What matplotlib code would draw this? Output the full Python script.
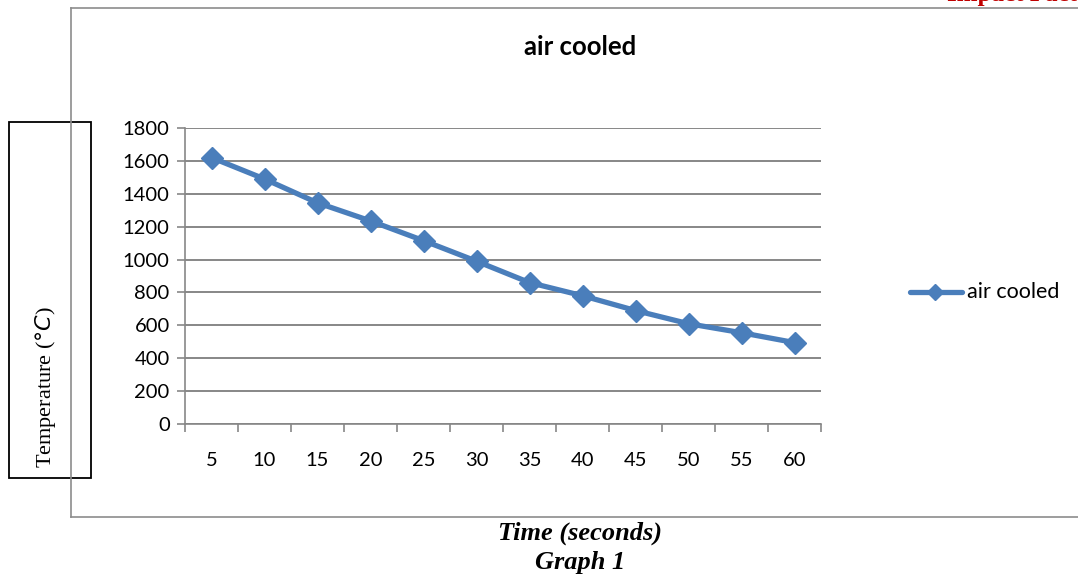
import matplotlib
matplotlib.use("Agg")
import matplotlib.pyplot as plt
from matplotlib.patches import Rectangle
from matplotlib.lines import Line2D

time_labels = ["5", "10", "15", "20", "25", "30", "35", "40", "45", "50", "55", "60"]
temperature = [1620, 1490, 1345, 1235, 1115, 990, 860, 780, 690, 610, 555, 495]
y_ticks = [0, 200, 400, 600, 800, 1000, 1200, 1400, 1600, 1800]
series_name = "air cooled"

W, H = 1078, 578
fig = plt.figure(figsize=(W / 100, H / 100), dpi=100)
fig.patch.set_facecolor("white")

def fx(px):
    return px / W

def fy(py):
    return 1 - py / H

sans = ["Lato", "DejaVu Sans"]
serif = ["Liberation Serif", "DejaVu Serif"]
blue = "#4A7EBB"
grid = "#878787"

# outer chart frame (left, top, bottom lines; right side clipped)
fig.add_artist(Line2D([fx(71), fx(71)], [fy(8), fy(517)], color="#8c8c8c", lw=1.2, transform=fig.transFigure))
fig.add_artist(Line2D([fx(71), 1.0], [fy(8), fy(8)], color="#8c8c8c", lw=1.2, transform=fig.transFigure))
fig.add_artist(Line2D([fx(71), 1.0], [fy(517), fy(517)], color="#8c8c8c", lw=1.2, transform=fig.transFigure))

ax = fig.add_axes([fx(185), fy(424), fx(821) - fx(185), fy(128) - fy(424)])
x = list(range(len(time_labels)))
ax.plot(x, temperature, color=blue, lw=3.8, marker="D", markersize=11.5,
        markerfacecolor=blue, markeredgecolor=blue, solid_joinstyle="round")
ax.set_xlim(-0.5, len(time_labels) - 0.5)
ax.set_ylim(0, 1800)
ax.set_yticks(y_ticks)
ax.set_yticklabels([str(v) for v in y_ticks], fontfamily=sans, fontsize=14.5)
ax.set_xticks(x)
ax.set_xticklabels(time_labels, fontfamily=sans, fontsize=14.5)
ax.tick_params(axis="x", which="major", length=0, pad=20)
ax.set_xticks([i - 0.5 for i in range(len(time_labels) + 1)], minor=True)
ax.tick_params(axis="x", which="minor", length=6, color=grid, width=1.2)
ax.tick_params(axis="y", length=6, color=grid, width=1.2, pad=5)
for s in ["top", "right"]:
    ax.spines[s].set_visible(False)
for s in ["left", "bottom"]:
    ax.spines[s].set_color(grid)
    ax.spines[s].set_linewidth(1.2)
ax.yaxis.grid(True, color=grid, lw=1.4)
ax.set_axisbelow(True)

# title
fig.text(fx(580), fy(47), "air cooled", fontfamily=sans, fontsize=18.5, fontweight="bold",
         ha="center", va="center")

# legend
fig.add_artist(Line2D([fx(910), fx(962)], [fy(292), fy(292)], color=blue, lw=3.8,
                      solid_capstyle="round", transform=fig.transFigure))
fig.add_artist(Line2D([fx(935)], [fy(292)], color=blue, marker="D", markersize=8.5,
                      transform=fig.transFigure))
fig.text(fx(967), fy(292), series_name, fontfamily=sans, fontsize=15.5, ha="left", va="center")

# y-label box
fig.add_artist(Rectangle((fx(9), fy(478)), fx(91) - fx(9), fy(122) - fy(478),
                         transform=fig.transFigure, facecolor="white", edgecolor="black", lw=1.3))
fig.text(fx(46), fy(387), r"Temperature ($\degree$$\mathit{C}$)", fontfamily=serif, fontsize=16,
         rotation=90, ha="center", va="center")

# bottom captions
fig.text(fx(580), fy(533), "Time (seconds)", fontfamily=serif, fontsize=19, fontweight="bold",
         fontstyle="italic", ha="center", va="center")
fig.text(fx(580), fy(563), "Graph 1", fontfamily=serif, fontsize=19, fontweight="bold",
         fontstyle="italic", ha="center", va="center")

# clipped red header text (cut by the top edge, as in the source image)
fig.text(fx(947), fy(-5), "Impact Factor", fontfamily=serif, fontsize=18, fontweight="bold",
         color="#C00000", ha="left", va="center")

fig.savefig("out.png", dpi=100, facecolor="white")
